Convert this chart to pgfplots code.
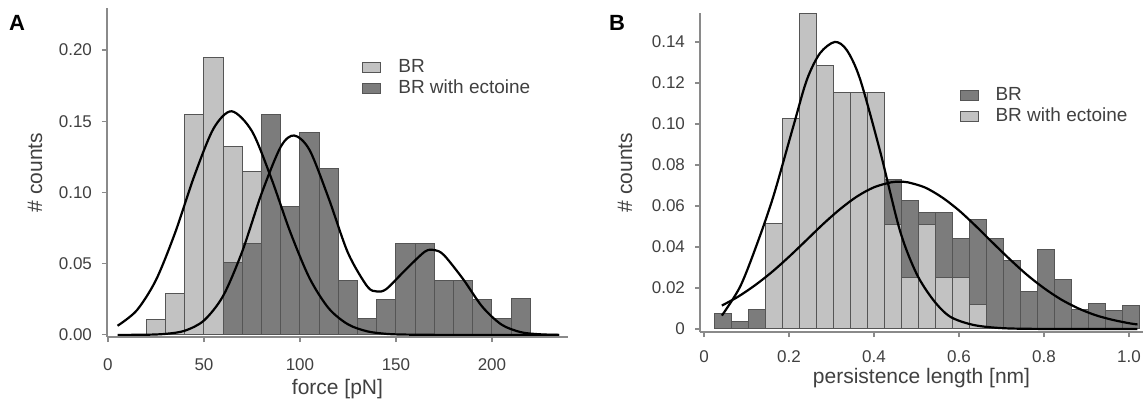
\documentclass[border=0pt]{standalone}
\usepackage{fontspec}
\setmainfont{Liberation Sans}
\usepackage{pgfplots}
\pgfplotsset{compat=1.18}
\definecolor{lightbar}{HTML}{C2C2C2}
\definecolor{darkbar}{HTML}{7C7C7C}
\definecolor{baredge}{HTML}{555555}
\definecolor{axgray}{HTML}{8A8A8A}
\definecolor{txtgray}{HTML}{404040}
\pgfplotsset{
 igor/.style={
  scale only axis,
  axis lines*=left,
  axis line style={draw=axgray, line width=0.75pt},
  tick style={draw=axgray, line width=0.6pt},
  tick align=outside,
  major tick length=2.5pt,
  ticklabel style={font=\fontsize{8.5}{9.5}\selectfont, text=txtgray},
  yticklabel style={xshift=-1.5pt},
  label style={font=\fontsize{10.5}{12}\selectfont, text=txtgray},
  clip=false,
  legend style={draw=none, fill=none, font=\fontsize{9.5}{11}\selectfont, text=txtgray,
    inner sep=0pt, row sep=0pt,
    nodes={inner sep=0.75pt, text height=7pt, text depth=2pt, anchor=west},
    /tikz/every odd column/.append style={column sep=7.75pt}},
  legend cell align=left,
  legend image code/.code={\draw[##1] (0pt,-2.5pt) rectangle (9pt,2.5pt);},
 },
 histbar/.style={ybar, bar shift=0pt, draw=baredge, line width=0.5pt, forget plot},
 fitline/.style={black, line width=1.1pt, smooth, forget plot},
}
\begin{document}
\begin{tikzpicture}
\path[use as bounding box] (0,0) rectangle (574pt,-202pt);
\node[font=\bfseries\fontsize{11}{12}\selectfont] at (8.5pt,-11.5pt) {A};
\node[font=\bfseries\fontsize{11}{12}\selectfont] at (308.5pt,-11.5pt) {B};
% ---------------- Panel A
\begin{axis}[igor,
  at={(53.5pt,-168.5pt)}, anchor=south west,
  width=230.5pt, height=164.5pt,
  xmin=-0.5, xmax=239.6, ymin=-0.0015, ymax=0.2295,
  xtick={0,50,100,150,200}, xticklabels={0,50,100,150,200},
  xticklabel style={yshift=-5pt},
  ytick={0,0.05,0.1,0.15,0.2}, yticklabels={0.00,0.05,0.10,0.15,0.20},
  xlabel={force [pN]}, ylabel={\# counts},
  xlabel style={at={(axis description cs:0.5,-0.158)}, anchor=center},
  ylabel style={at={(axis description cs:-0.156,0.5)}, anchor=center},
  legend style={at={(axis description cs:0.553,0.853)}, anchor=north west},
]
\addplot[histbar, fill=lightbar, bar width=10] coordinates {
 (25,0.0105) (35,0.029) (45,0.155) (55,0.195) (65,0.1326) (75,0.115)};
\addplot[histbar, fill=darkbar, bar width=10] coordinates {
 (65,0.0507) (75,0.0643) (85,0.155) (95,0.090) (105,0.142) (115,0.1165)
 (125,0.038) (135,0.0117) (145,0.025) (155,0.0643) (165,0.0643) (175,0.038)
 (185,0.038) (195,0.025) (205,0.0117) (215,0.0253)};
\addplot[fitline] coordinates {
 (5,0.0064) (15,0.0172) (25,0.0385) (35,0.0718) (45,0.1117) (55,0.1449)
 (64.4,0.157) (75,0.143) (85,0.1102) (95,0.072) (105,0.0398) (115,0.0186)
 (125,0.0074) (135,0.0025) (145,0.0007) (155,0.0002) (175,0) (235,0)};
\addplot[fitline] coordinates {
 (5,0) (20,0.0001) (30,0.0007) (40,0.0029) (50,0.0101) (60,0.0274) (70,0.0588)
 (80,0.0992) (90,0.1321) (97,0.14) (105,0.1298) (115,0.0957) (125,0.0576)
 (135,0.0341) (140,0.0305) (145,0.0322) (155,0.0457) (165,0.0584) (170,0.0596)
 (175,0.056) (185,0.0391) (195,0.0197) (205,0.0072) (215,0.0019) (225,0.0004) (235,0)};
\addlegendimage{fill=lightbar, draw=baredge, line width=0.5pt}
\addlegendentry{BR}
\addlegendimage{fill=darkbar, draw=baredge, line width=0.5pt}
\addlegendentry{BR with ectoine}
\end{axis}
% ---------------- Panel B
\begin{axis}[igor,
  at={(350pt,-166pt)}, anchor=south west,
  width=221.5pt, height=159.5pt,
  xmin=-0.0094, xmax=1.033, ymin=-0.0015, ymax=0.1541,
  xtick={0,0.2,0.4,0.6,0.8,1.0}, xticklabels={0,0.2,0.4,0.6,0.8,1.0},
  xticklabel style={yshift=-3.5pt},
  ytick={0,0.02,0.04,0.06,0.08,0.1,0.12,0.14},
  yticklabels={0,0.02,0.04,0.06,0.08,0.10,0.12,0.14},
  xlabel={persistence length [nm]}, ylabel={\# counts},
  xlabel style={at={(axis description cs:0.5,-0.144)}, anchor=center},
  ylabel style={at={(axis description cs:-0.169,0.5)}, anchor=center},
  legend style={at={(axis description cs:0.585,0.776)}, anchor=north west},
]
\addplot[histbar, fill=darkbar, bar width=0.04] coordinates {
 (0.045,0.0073) (0.085,0.0036) (0.125,0.0093)
 (0.445,0.073) (0.485,0.0626) (0.525,0.0567) (0.565,0.0567) (0.605,0.0442)
 (0.645,0.0535) (0.685,0.0442) (0.725,0.0332) (0.765,0.0184) (0.805,0.0389)
 (0.845,0.0239) (0.885,0.0095) (0.925,0.0125) (0.965,0.0091) (1.005,0.0112)};
\addplot[histbar, fill=lightbar, bar width=0.04] coordinates {
 (0.165,0.0512) (0.205,0.1028) (0.245,0.1537) (0.285,0.1283) (0.325,0.1154)
 (0.365,0.1154) (0.405,0.1154) (0.445,0.0507) (0.485,0.025) (0.525,0.0507)
 (0.565,0.025) (0.605,0.025) (0.645,0.0117)};
\addplot[fitline] coordinates {
 (0.042,0.0065) (0.085,0.0206) (0.124,0.041) (0.163,0.0645) (0.21,0.0987)
 (0.242,0.1215) (0.273,0.1345) (0.308,0.14) (0.336,0.136) (0.367,0.122)
 (0.414,0.087) (0.461,0.048) (0.5,0.027) (0.54,0.014) (0.579,0.006)
 (0.633,0.002) (0.7,0.0004) (0.8,0) (1.02,0)};
\addplot[fitline] coordinates {
 (0.042,0.0114) (0.08,0.0157) (0.12,0.0213) (0.16,0.0278) (0.2,0.0352)
 (0.24,0.0431) (0.28,0.0511) (0.32,0.0584) (0.36,0.0646) (0.4,0.0691)
 (0.44,0.0715) (0.46,0.0718) (0.48,0.0715) (0.52,0.069) (0.56,0.0642)
 (0.6,0.0578) (0.64,0.0501) (0.68,0.0419) (0.72,0.0339) (0.76,0.0264)
 (0.8,0.0199) (0.84,0.0144) (0.88,0.0101) (0.92,0.0068) (0.96,0.0045)
 (1.0,0.0028) (1.02,0.0022)};
\addlegendimage{fill=darkbar, draw=baredge, line width=0.5pt}
\addlegendentry{BR}
\addlegendimage{fill=lightbar, draw=baredge, line width=0.5pt}
\addlegendentry{BR with ectoine}
\end{axis}
\end{tikzpicture}
\end{document}
